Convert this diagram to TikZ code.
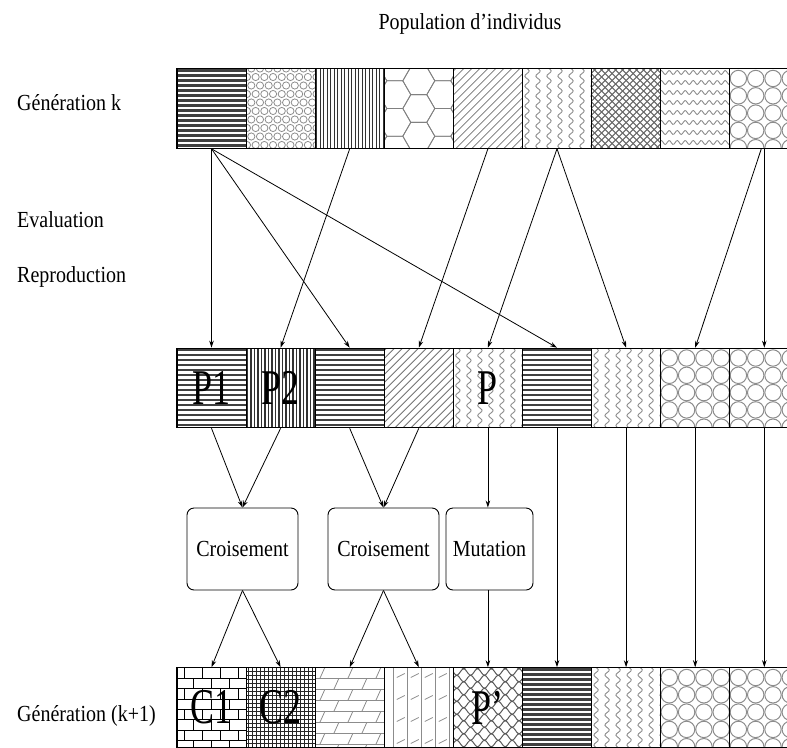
\documentclass[tikz,border=0pt]{standalone}
\usepackage{fontspec}
\setmainfont{Liberation Serif}
\usepackage{graphicx}
\usetikzlibrary{arrows.meta}

% fill patterns, drawn round (0,0) in a 69 x 80 cell
\newcommand{\pHlines}{%
  \foreach \y in {-38,-33,...,40} \draw[line width=2.2,black!75] (-36,\y) -- (36,\y);}
\newcommand{\pVlines}{%
  \foreach \x in {-33,-29.5,...,35} \draw[line width=1.4,black!80] (\x,-41) -- (\x,41);}
\newcommand{\pPebble}{%
  \foreach \r in {0,...,9} \foreach \c in {0,...,8}
    \draw[black!45,line width=0.8] ({-38+8.7*\c+4.35*mod(\r,2)},{-40+8.5*\r}) circle (3.6);}
\newcommand{\pHex}{%
  \foreach \c in {0,...,4} \foreach \r in {0,...,4}
    \draw[black!50,line width=0.8] ({-48+24*\c},{-55.4+27.7*\r+13.85*mod(\c,2)})
      +(0:16) -- +(60:16) -- +(120:16) -- +(180:16) -- +(240:16) -- +(300:16) -- cycle;}
\newcommand{\pDiag}{%
  \foreach \t in {-80,-72,...,80} \draw[black!55,line width=0.8] (\t-40,40) -- (\t+40,-40);}
\newcommand{\pVwave}{%
  \foreach \c in {-30,-19,...,36}
    \draw[black!45,line width=0.9] plot[domain=-42:42,samples=60] ({\c+2.2*sin(\x*36)},\x);}
\newcommand{\pHwave}{%
  \foreach \r in {-36,-26,...,40}
    \draw[black!45,line width=0.9] plot[domain=-36:36,samples=60] (\x,{\r+2*sin(\x*45)});}
\newcommand{\pCross}{%
  \foreach \t in {-84,-77,...,84} {
    \draw[black!60,line width=1] (\t-40,40) -- (\t+40,-40);
    \draw[black!60,line width=1] (\t-40,-40) -- (\t+40,40);}}
\newcommand{\pCirc}{%
  \foreach \c in {0,...,4} \foreach \r in {0,...,4}
    \draw[black!45,line width=1] ({-25.9+17.3*\c},{-30+17.3*\r}) circle (8.2);}
\newcommand{\pBrick}{%
  \foreach \r in {0,...,7} {
    \draw[line width=0.8] (-36,{-39.75+10.4*\r}) -- (36,{-39.75+10.4*\r});
    \foreach \c in {0,...,4}
      \draw[line width=0.8] ({-27+18*\c-9*mod(\r,2)},{-39.75+10.4*\r}) -- ++(0,10.4);}}
\newcommand{\pGrid}{%
  \foreach \t in {-36,-32,...,40} {
    \draw[black!85,line width=0.6] (\t,-41) -- (\t,41);
    \draw[black!85,line width=0.6] (-36,\t) -- (36,\t);}}
\newcommand{\pTile}{%
  \foreach \r in {0,...,7} {
    \draw[black!45,line width=0.8] (-36,{-39.75+11*\r}) -- (36,{-39.75+11*\r});
    \foreach \c in {0,...,3}
      \draw[black!45,line width=0.8] ({-30+28*\c+14*mod(\r,2)},{-28.75+11*\r}) -- ++(5,-11);}}
\newcommand{\pVtile}{%
  \foreach \x in {-25,-11,3,17,31} \draw[black!45,line width=0.8] (\x,-41) -- (\x,41);
  \foreach \x in {-25,-11,3,17} \foreach \r in {0,...,3}
    \draw[black!45,line width=0.8] ({\x+3},{-30+22*\r}) -- ++(8,-4);}
\newcommand{\pChain}{%
  \foreach \r in {0,...,13}
    \draw[black!65,line width=1] plot[domain=-36:36,samples=50] (\x,{-42+6.5*\r+3.2*sin(\x*26+180*\r)});}

\newcommand{\nar}[1]{\scalebox{0.87}[1]{#1}}
\newcommand{\grand}[1]{\fontsize{50}{50}\selectfont\scalebox{0.72}[1]{#1}}

\tikzset{
  cell/.style={draw, line width=1.1, minimum width=69.1, minimum height=79.5, inner sep=0},
  op/.style={draw, line width=0.9, rounded corners=7, minimum width=111, minimum height=82,
    inner sep=0, font=\fontsize{23}{23}\selectfont},
  lbl/.style={font=\fontsize{23}{23}\selectfont, anchor=west, inner sep=0},
  arr/.style={line width=0.8, -{Stealth[length=7pt,width=4.5pt]}},
}

\begin{document}
\begin{tikzpicture}[x=1pt, y=-1pt]
\path[use as bounding box, clip] (0,0) rectangle (787,747);

\node[lbl, anchor=center] (titre) at (470,24) {\nar{Population d’individus}};
\node[lbl] (genk) at (17,103) {\nar{Génération k}};
\node[lbl] (eval) at (17,220) {\nar{Evaluation}};
\node[lbl] (repro) at (17,277) {\nar{Reproduction}};
\node[lbl] (genk1) at (17,716) {\nar{Génération (k+1)}};

% generation k
\foreach \i/\pat in {0/\pHlines,1/\pPebble,2/\pVlines,3/\pHex,4/\pDiag,5/\pVwave,6/\pCross,7/\pHwave,8/\pCirc}{
  \begin{scope}[shift={(211.5+69.1*\i,108.5)}]
    \clip (-34.55,-39.75) rectangle (34.55,39.75);
    \pat
  \end{scope}
  \node[cell] (k\i) at (211.5+69.1*\i,108.5) {};
}

% after reproduction
\foreach \i/\pat/\txt in {0/\pHlines/P1,1/\pVlines/P2,2/\pHlines/{},3/\pDiag/{},4/\pVwave/P,5/\pHlines/{},6/\pVwave/{},7/\pCirc/{},8/\pCirc/{}}{
  \begin{scope}[shift={(211.5+69.1*\i,388)}]
    \clip (-34.55,-39.75) rectangle (34.55,39.75);
    \pat
  \end{scope}
  \node[cell] (m\i) at (211.5+69.1*\i,388) {\grand{\txt}};
}

% generation k+1
\foreach \i/\pat/\txt in {0/\pBrick/C1,1/\pGrid/C2,2/\pTile/{},3/\pVtile/{},4/\pChain/P’,5/\pHlines/{},6/\pVwave/{},7/\pCirc/{},8/\pCirc/{}}{
  \begin{scope}[shift={(211.5+69.1*\i,707.5)}]
    \clip (-34.55,-39.75) rectangle (34.55,39.75);
    \pat
  \end{scope}
  \node[cell] (b\i) at (211.5+69.1*\i,707.5) {\grand{\txt}};
}

\node[op] (cr1) at (242.5,549) {\nar{Croisement}};
\node[op] (cr2) at (383.5,549) {\nar{Croisement}};
\node[op, minimum width=87] (mut) at (489.5,549) {\nar{Mutation}};

\draw[arr] (k0.south) -- (m0.north);
\draw[arr] (k0.south) -- (m2.north);
\draw[arr] (k0.south) -- (m5.north);
\draw[arr] (k2.south) -- (m1.north);
\draw[arr] (k4.south) -- (m3.north);
\draw[arr] (k5.south) -- (m4.north);
\draw[arr] (k5.south) -- (m6.north);
\draw[arr] ([xshift=-3]k8.south) -- (m7.north);
\draw[arr] (k8.south) -- (m8.north);

\draw[arr] (m0.south) -- (cr1.north);
\draw[arr] (m1.south) -- (cr1.north);
\draw[arr] (m2.south) -- (cr2.north);
\draw[arr] (m3.south) -- (cr2.north);
\draw[arr] (m4.south) -- (m4.south |- mut.north);
\draw[arr] (cr1.south) -- (b0.north);
\draw[arr] (cr1.south) -- (b1.north);
\draw[arr] (cr2.south) -- (b2.north);
\draw[arr] (cr2.south) -- (b3.north);
\draw[arr] (b4.north |- mut.south) -- (b4.north);
\foreach \i in {5,...,8} \draw[arr] (m\i.south) -- (b\i.north);
\end{tikzpicture}
\end{document}
